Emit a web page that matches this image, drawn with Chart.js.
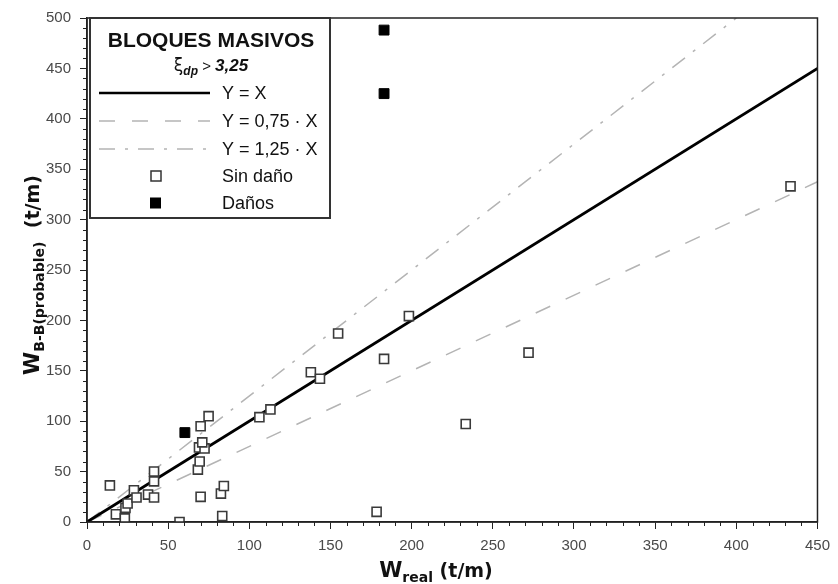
<!DOCTYPE html>
<html>
<head>
<meta charset="utf-8">
<script src="https://cdn.jsdelivr.net/npm/chart.js@4.4.1/dist/chart.umd.min.js"></script>
<style>
html,body{margin:0;padding:0;background:#fff;}
#wrap{width:838px;height:584px;position:relative;}
</style>
</head>
<body>
<div id="wrap"><canvas id="c" width="838" height="584"></canvas></div>
<script>
// ---- data ----
const sinDanoX = [14.1, 17.8, 23.3, 23.7, 25.0, 28.9, 30.5, 37.6, 41.3, 41.3, 41.3, 57.0, 68.3, 69.4, 69.0, 72.4, 71.0, 70.0, 74.9, 70.0, 82.5, 84.3, 83.3, 106.2, 113.0, 137.9, 143.5, 154.7, 183.0, 198.3, 178.4, 233.3, 272.0, 433.4];
const sinDanoY = [36.3, 7.6, 3.6, 14.0, 18.4, 31.4, 24.3, 27.2, 24.3, 40.3, 50.0, 0.0, 52.0, 60.0, 74.0, 73.0, 79.0, 95.0, 105.0, 25.0, 28.2, 35.7, 5.9, 104.0, 111.7, 148.6, 142.1, 187.0, 161.8, 204.3, 10.1, 97.2, 168.0, 333.0];
const danosX = [183.0, 183.0, 60.3];
const danosY = [488.0, 425.0, 88.7];
const lineYX_X = [0, 450],   lineYX_Y = [0, 450];
const line075_X = [0, 450],  line075_Y = [0, 337.5];
const line125_X = [0, 400],  line125_Y = [0, 500];
const xTickValues = [0, 50, 100, 150, 200, 250, 300, 350, 400, 450];
const yTickValues = [0, 50, 100, 150, 200, 250, 300, 350, 400, 450, 500];
const legendTitle = 'BLOQUES MASIVOS';
const legendLabels = ['Y = X', 'Y = 0,75 · X', 'Y = 1,25 · X', 'Sin daño', 'Daños'];

const pts = (xs, ys) => xs.map((x, i) => ({x: x, y: ys[i]}));

const GRAY = '#b4b4b4';
const SANS = '"Liberation Sans", Arial, sans-serif';
const WIDE = '"DejaVu Sans", Verdana, sans-serif';

function drawRich(ctx, segs, x, y, align) {
  let w = 0;
  segs.forEach(s => { ctx.font = s.f; w += ctx.measureText(s.t).width; });
  let cx = align === 'center' ? x - w / 2 : x;
  ctx.textAlign = 'left';
  ctx.textBaseline = 'alphabetic';
  segs.forEach(s => {
    ctx.font = s.f;
    ctx.fillText(s.t, cx, y + (s.dy || 0));
    cx += ctx.measureText(s.t).width;
  });
}

const decor = {
  id: 'decor',
  afterDatasetsDraw(chart) {
    const ctx = chart.ctx, ca = chart.chartArea;
    const xs = chart.scales.x, ys = chart.scales.y;
    ctx.save();
    // frame
    ctx.strokeStyle = '#222';
    ctx.lineWidth = 1.5;
    ctx.strokeRect(ca.left, ca.top, ca.right - ca.left, ca.bottom - ca.top);
    // minor ticks
    ctx.lineWidth = 1;
    ctx.beginPath();
    for (let v = 10; v < 450; v += 10) {
      if (v % 50 === 0) continue;
      const px = Math.round(xs.getPixelForValue(v)) + 0.5;
      ctx.moveTo(px, ca.bottom); ctx.lineTo(px, ca.bottom + 4);
    }
    for (let v = 10; v < 500; v += 10) {
      if (v % 50 === 0) continue;
      const py = Math.round(ys.getPixelForValue(v)) + 0.5;
      ctx.moveTo(ca.left, py); ctx.lineTo(ca.left - 4, py);
    }
    ctx.stroke();

    // legend box
    const bx = 90, by = 18, bw = 240, bh = 200;
    ctx.fillStyle = '#fff';
    ctx.fillRect(bx, by, bw, bh);
    ctx.strokeStyle = '#333';
    ctx.lineWidth = 2;
    ctx.strokeRect(bx, by, bw, bh);
    ctx.fillStyle = '#111';
    ctx.font = 'bold 21px ' + SANS;
    ctx.textAlign = 'center';
    ctx.textBaseline = 'middle';
    ctx.fillText(legendTitle, 211, 41);
    drawRich(ctx, [
      {t: 'ξ', f: '17px "DejaVu Sans", sans-serif'},
      {t: 'dp', f: 'italic bold 12px ' + SANS, dy: 4},
      {t: ' > ', f: '15px ' + SANS},
      {t: '3,25', f: 'italic bold 17px ' + SANS}
    ], 211, 71, 'center');

    const rows = [93, 121, 149, 176, 203];
    const lx0 = 99, lx1 = 210, tx = 222;
    ctx.lineCap = 'butt';
    ctx.strokeStyle = '#000'; ctx.lineWidth = 2.5; ctx.setLineDash([]);
    ctx.beginPath(); ctx.moveTo(lx0, rows[0]); ctx.lineTo(lx1, rows[0]); ctx.stroke();
    ctx.strokeStyle = GRAY; ctx.lineWidth = 1.5; ctx.setLineDash([16, 17]);
    ctx.beginPath(); ctx.moveTo(lx0, rows[1]); ctx.lineTo(lx1, rows[1]); ctx.stroke();
    ctx.setLineDash([16, 10, 3, 10]);
    ctx.beginPath(); ctx.moveTo(lx0, rows[2]); ctx.lineTo(lx1, rows[2]); ctx.stroke();
    ctx.setLineDash([]);
    ctx.fillStyle = '#fff'; ctx.strokeStyle = '#333'; ctx.lineWidth = 1.5;
    ctx.fillRect(151, rows[3] - 5, 10, 10); ctx.strokeRect(151, rows[3] - 5, 10, 10);
    ctx.fillStyle = '#000';
    ctx.fillRect(150, rows[4] - 5.5, 11, 11);
    ctx.fillStyle = '#111';
    ctx.font = '18px ' + SANS;
    ctx.textAlign = 'left';
    ctx.textBaseline = 'middle';
    legendLabels.forEach((l, i) => ctx.fillText(l, tx, rows[i] + 1));

    // axis titles
    ctx.fillStyle = '#111';
    drawRich(ctx, [
      {t: 'W', f: 'bold 21px ' + WIDE},
      {t: 'real', f: 'bold 14px ' + WIDE, dy: 5},
      {t: ' (t/m)', f: 'bold 19px ' + WIDE}
    ], 436, 577, 'center');
    ctx.save();
    ctx.translate(39, 275);
    ctx.rotate(-Math.PI / 2);
    drawRich(ctx, [
      {t: 'W', f: 'bold 21px ' + WIDE},
      {t: 'B-B(probable)', f: 'bold 14px ' + WIDE, dy: 5},
      {t: '  (t/m)', f: 'bold 19px ' + WIDE}
    ], 0, 0, 'center');
    ctx.restore();
    ctx.restore();
  }
};

new Chart(document.getElementById('c'), {
  type: 'scatter',
  data: {
    datasets: [
      {label: 'Daños', data: pts(danosX, danosY), pointStyle: 'rect', pointRadius: 7, backgroundColor: '#000', borderColor: '#000', borderWidth: 1, order: 0},
      {label: 'Sin daño', data: pts(sinDanoX, sinDanoY), pointStyle: 'rect', pointRadius: 6.4, backgroundColor: '#fff', borderColor: '#3a3a3a', borderWidth: 1.6, order: 1},
      {type: 'line', label: 'Y = X', data: pts(lineYX_X, lineYX_Y), borderColor: '#000', borderWidth: 2.8, pointRadius: 0, fill: false, order: 2},
      {type: 'line', label: 'Y = 0,75 · X', data: pts(line075_X, line075_Y), borderColor: GRAY, borderWidth: 1.5, borderDash: [16, 17], pointRadius: 0, fill: false, order: 3},
      {type: 'line', label: 'Y = 1,25 · X', data: pts(line125_X, line125_Y), borderColor: GRAY, borderWidth: 1.5, borderDash: [16, 10, 3, 10], pointRadius: 0, fill: false, order: 4}
    ]
  },
  options: {
    responsive: false,
    animation: false,
    layout: {padding: {top: 13, right: 18, left: 0, bottom: 0}},
    plugins: {legend: {display: false}, tooltip: {enabled: false}},
    scales: {
      x: {
        type: 'linear', min: 0, max: 450,
        afterBuildTicks: s => { s.ticks = xTickValues.map(v => ({value: v})); },
        afterFit: s => { s.height = 62; },
        ticks: {color: '#4a4a4a', font: {size: 15, family: SANS}, padding: 8, maxRotation: 0, autoSkip: false},
        grid: {drawOnChartArea: false, drawTicks: true, tickLength: 7, color: '#222', lineWidth: 1},
        border: {display: true, color: '#222', width: 1.5}
      },
      y: {
        type: 'linear', min: 0, max: 500,
        afterBuildTicks: s => { s.ticks = yTickValues.map(v => ({value: v})); },
        afterFit: s => { s.width = 87; },
        ticks: {color: '#4a4a4a', font: {size: 15, family: SANS}, padding: 9, autoSkip: false},
        grid: {drawOnChartArea: false, drawTicks: true, tickLength: 7, color: '#222', lineWidth: 1},
        border: {display: true, color: '#222', width: 1.5}
      }
    }
  },
  plugins: [decor]
});
</script>
</body>
</html>
